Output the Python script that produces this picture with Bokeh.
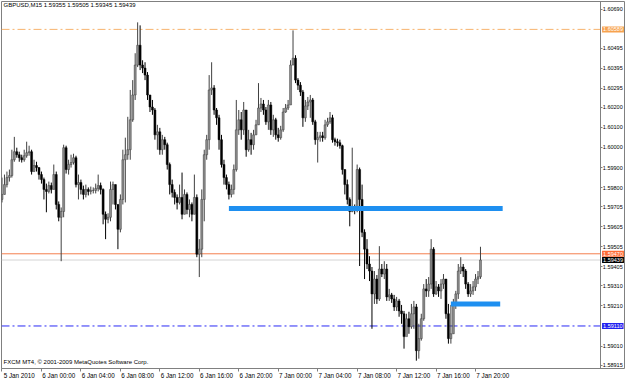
import numpy as np
from bokeh.plotting import figure
from bokeh.models import (FixedTicker, Label, ColumnDataSource, PrintfTickFormatter,
                          LinearAxis)
from bokeh.embed import file_html
from bokeh.resources import INLINE

symbol_title = "GBPUSD,M15  1.59355 1.59505 1.59345 1.59439"
copyright_text = "FXCM MT4, \u00a9 2001-2009 MetaQuotes Software Corp."

first_open = 1.59741
closes = [
    1.59766, 1.59815, 1.59850, 1.59860, 1.59939, 1.59979, 1.59964, 1.59949, 1.59939, 1.59959,
    1.59974, 1.59979, 1.59880, 1.59910, 1.59900, 1.59865, 1.59840, 1.59791, 1.59781, 1.59810,
    1.59791, 1.59865, 1.59716, 1.59652, 1.59681, 1.59999, 1.59890, 1.59915, 1.59925, 1.59949,
    1.59815, 1.59825, 1.59791, 1.59766, 1.59791, 1.59781, 1.59786, 1.59786, 1.59796, 1.59810,
    1.59791, 1.59667, 1.59642, 1.59652, 1.59791, 1.59815, 1.59716, 1.59592, 1.59741, 1.59939,
    1.59964, 1.59989, 1.60138, 1.60262, 1.60411, 1.60510, 1.60411, 1.60396, 1.60361, 1.60262,
    1.60202, 1.60187, 1.60063, 1.60078, 1.59989, 1.60039, 1.60014, 1.59915, 1.59815, 1.59776,
    1.59751, 1.59726, 1.59751, 1.59667, 1.59766, 1.59691, 1.59716, 1.59667, 1.59751, 1.59468,
    1.59493, 1.59741, 1.59964, 1.60039, 1.60287, 1.60297, 1.60187, 1.60148, 1.60039, 1.59915,
    1.59850, 1.59815, 1.59766, 1.59791, 1.59890, 1.60088, 1.60138, 1.60088, 1.60187, 1.59989,
    1.60039, 1.60014, 1.60063, 1.60113, 1.60197, 1.60217, 1.60187, 1.60128, 1.60212, 1.60088,
    1.60138, 1.60063, 1.60049, 1.60088, 1.60177, 1.60197, 1.60212, 1.60411, 1.60445, 1.60336,
    1.60311, 1.60277, 1.60148, 1.60207, 1.60227, 1.60237, 1.60128, 1.60039, 1.60049, 1.60058,
    1.60049, 1.60113, 1.60128, 1.60148, 1.60039, 1.60029, 1.60024, 1.60009, 1.59890, 1.59815,
    1.59741, 1.59681, 1.59701, 1.59691, 1.59890, 1.59741, 1.59577, 1.59493, 1.59419, 1.59384,
    1.59270, 1.59344, 1.59245, 1.59394, 1.59369, 1.59394, 1.59255, 1.59265, 1.59245, 1.59205,
    1.59235, 1.59185, 1.59171, 1.59057, 1.59146, 1.59106, 1.59171, 1.59205, 1.58987, 1.59047,
    1.59146, 1.59295, 1.59285, 1.59319, 1.59493, 1.59270, 1.59305, 1.59285, 1.59319, 1.59344,
    1.59171, 1.59047, 1.59071, 1.59220, 1.59270, 1.59384, 1.59404, 1.59384, 1.59319, 1.59270,
    1.59285, 1.59305, 1.59344, 1.59355, 1.59439,
]
highs = [
    1.59850, 1.59865, 1.59880, 1.59890, 1.59989, 1.60053, 1.59999, 1.59979, 1.59964, 1.59989,
    1.60029, 1.60009, 1.59989, 1.59939, 1.59929, 1.59900, 1.59880, 1.59850, 1.59820, 1.59830,
    1.59825, 1.59915, 1.59880, 1.59731, 1.59701, 1.60014, 1.60009, 1.59939, 1.59964, 1.59969,
    1.59959, 1.59865, 1.59840, 1.59810, 1.59815, 1.59801, 1.59805, 1.59801, 1.59820, 1.59865,
    1.59825, 1.59796, 1.59681, 1.59672, 1.59830, 1.59830, 1.59815, 1.59716, 1.59766, 1.59989,
    1.60049, 1.60153, 1.60287, 1.60336, 1.60470, 1.60624, 1.60609, 1.60435, 1.60425, 1.60376,
    1.60252, 1.60237, 1.60197, 1.60113, 1.60098, 1.60063, 1.60053, 1.60024, 1.59925, 1.59840,
    1.59791, 1.59766, 1.59815, 1.59875, 1.59791, 1.59776, 1.59741, 1.59726, 1.59865, 1.59766,
    1.59543, 1.59791, 1.59989, 1.60063, 1.60361, 1.60425, 1.60311, 1.60197, 1.60163, 1.60063,
    1.59939, 1.59865, 1.59830, 1.59815, 1.59915, 1.60237, 1.60187, 1.60177, 1.60227, 1.60187,
    1.60088, 1.60073, 1.60088, 1.60138, 1.60321, 1.60247, 1.60237, 1.60202, 1.60237, 1.60227,
    1.60163, 1.60148, 1.60098, 1.60108, 1.60197, 1.60217, 1.60237, 1.60435, 1.60584, 1.60460,
    1.60346, 1.60326, 1.60287, 1.60237, 1.60252, 1.60262, 1.60247, 1.60138, 1.60078, 1.60078,
    1.60078, 1.60138, 1.60148, 1.60177, 1.60163, 1.60049, 1.60044, 1.60039, 1.60014, 1.59890,
    1.59840, 1.59751, 1.59999, 1.59716, 1.59915, 1.59900, 1.59815, 1.59592, 1.59543, 1.59458,
    1.59404, 1.59384, 1.59364, 1.59508, 1.59419, 1.59433, 1.59419, 1.59295, 1.59275, 1.59265,
    1.59255, 1.59245, 1.59215, 1.59185, 1.59171, 1.59181, 1.59220, 1.59235, 1.59220, 1.59121,
    1.59171, 1.59319, 1.59344, 1.59354, 1.59543, 1.59503, 1.59334, 1.59319, 1.59344, 1.59369,
    1.59334, 1.59220, 1.59215, 1.59245, 1.59285, 1.59419, 1.59453, 1.59419, 1.59394, 1.59329,
    1.59319, 1.59334, 1.59369, 1.59384, 1.59505,
]
lows = [
    1.59726, 1.59766, 1.59801, 1.59830, 1.59850, 1.59929, 1.59949, 1.59929, 1.59925, 1.59929,
    1.59949, 1.59959, 1.59865, 1.59880, 1.59880, 1.59840, 1.59820, 1.59741, 1.59677, 1.59771,
    1.59771, 1.59791, 1.59691, 1.59632, 1.59433, 1.59652, 1.59870, 1.59865, 1.59900, 1.59915,
    1.59801, 1.59741, 1.59766, 1.59741, 1.59751, 1.59761, 1.59766, 1.59771, 1.59771, 1.59781,
    1.59766, 1.59617, 1.59543, 1.59622, 1.59632, 1.59716, 1.59691, 1.59493, 1.59577, 1.59716,
    1.59726, 1.59939, 1.59939, 1.60128, 1.60237, 1.60401, 1.60386, 1.60371, 1.60336, 1.60237,
    1.60177, 1.60163, 1.60039, 1.59989, 1.59964, 1.59964, 1.59989, 1.59890, 1.59766, 1.59751,
    1.59716, 1.59691, 1.59716, 1.59642, 1.59667, 1.59667, 1.59652, 1.59632, 1.59667, 1.59453,
    1.59354, 1.59453, 1.59632, 1.59939, 1.59989, 1.60262, 1.60163, 1.60113, 1.59989, 1.59900,
    1.59815, 1.59791, 1.59741, 1.59751, 1.59766, 1.59880, 1.60063, 1.60039, 1.60063, 1.59954,
    1.59979, 1.59964, 1.59989, 1.60063, 1.60113, 1.60177, 1.60163, 1.60113, 1.60088, 1.60063,
    1.60053, 1.60039, 1.60029, 1.60039, 1.60078, 1.60173, 1.60187, 1.60212, 1.60411, 1.60321,
    1.60287, 1.60257, 1.60103, 1.60128, 1.60187, 1.60148, 1.60113, 1.60014, 1.59925, 1.60029,
    1.60029, 1.60039, 1.60103, 1.60118, 1.60024, 1.60009, 1.60004, 1.59994, 1.59865, 1.59766,
    1.59716, 1.59607, 1.59677, 1.59667, 1.59677, 1.59409, 1.59553, 1.59344, 1.59394, 1.59334,
    1.59096, 1.59220, 1.59220, 1.59235, 1.59354, 1.59344, 1.59235, 1.59235, 1.59225, 1.59185,
    1.59185, 1.59156, 1.59121, 1.58997, 1.59086, 1.59071, 1.59096, 1.59096, 1.58937, 1.58947,
    1.59037, 1.59136, 1.59255, 1.59255, 1.59295, 1.59255, 1.59265, 1.59255, 1.59245, 1.59295,
    1.59146, 1.59022, 1.59022, 1.59071, 1.59195, 1.59245, 1.59369, 1.59354, 1.59295, 1.59255,
    1.59255, 1.59265, 1.59285, 1.59319, 1.59345,
]

x_tick_bars = [0, 16, 32, 48, 64, 80, 96, 112, 128, 144, 160, 176, 192]
x_tick_labels = ["5 Jan 2010", "6 Jan 00:00", "6 Jan 04:00", "6 Jan 08:00", "6 Jan 12:00",
                 "6 Jan 16:00", "6 Jan 20:00", "7 Jan 00:00", "7 Jan 04:00", "7 Jan 08:00",
                 "7 Jan 12:00", "7 Jan 16:00", "7 Jan 20:00"]
y_ticks = [1.60690, 1.60495, 1.60395, 1.60295, 1.60200, 1.60100, 1.60000, 1.59900, 1.59800,
           1.59705, 1.59605, 1.59505, 1.59405, 1.59310, 1.59210, 1.59010, 1.58915]

upper_level = 1.60589
ask_level = 1.59470
bid_level = 1.59439
lower_level = 1.59110
zone_prices = [1.59696, 1.59220]
zone_start_bars = [92, 182]
zone_end_bars = [203, 202]

# layout of the bar axis (in bars): visible window and where the price scale sits
X_START, X_END = -0.2, 252.8
SCALE_AT = 242.8
Y0, Y1 = 1.58898, 1.60728

opens = [first_open] + closes[:-1]
idx = list(range(len(closes)))
bull = [c >= o for o, c in zip(opens, closes)]
src = ColumnDataSource(dict(
    x=idx, open=opens, close=closes, high=highs, low=lows,
    top=[max(o, c) for o, c in zip(opens, closes)],
    bottom=[min(o, c) for o, c in zip(opens, closes)],
    fill=["#8e8e8e" if b else "#000000" for b in bull],
    edge=["#3c3c3c" if b else "#000000" for b in bull],
    wick=["#404040" if b else "#000000" for b in bull],
))

p = figure(width=625, height=381, x_range=(X_START, X_END), y_range=(Y0, Y1),
           y_axis_location=None, toolbar_location=None, output_backend="svg",
           min_border_left=1, min_border_top=1, min_border_right=0, min_border_bottom=11)
p.xgrid.visible = False
p.ygrid.visible = False
p.outline_line_color = "#808080"
p.background_fill_color = "white"
p.border_fill_color = "white"

FONT = "Liberation Sans"

# price scale drawn at a fixed place inside the window, as in MT4
yax = LinearAxis(fixed_location=SCALE_AT, ticker=FixedTicker(ticks=y_ticks),
                 formatter=PrintfTickFormatter(format="%.5f"))
p.add_layout(yax, "right")

for ax in (p.xaxis[0], yax):
    ax.axis_line_color = "#808080"
    ax.major_tick_line_color = "#808080"
    ax.minor_tick_line_color = None
    ax.major_tick_in = 0
    ax.major_tick_out = 3
    ax.major_label_text_font = FONT
    ax.major_label_text_font_size = "6.3px"
    ax.major_label_text_color = "#000000"
    ax.major_label_standoff = 0
yax.major_label_text_font_size = "5.5px"
yax.major_tick_out = 2

# MT4 writes each time label to the right of its tick mark:
# labels sit on (hidden) major ticks, the marks are drawn as minor ticks at the bars.
LABEL_SHIFT = 7
label_pos = [b + LABEL_SHIFT for b in x_tick_bars]
p.xaxis.ticker = FixedTicker(ticks=label_pos, minor_ticks=x_tick_bars)
p.xaxis.major_label_overrides = {b: t for b, t in zip(label_pos, x_tick_labels)}
p.xaxis.major_tick_line_color = None
p.xaxis.minor_tick_line_color = "#808080"
p.xaxis.minor_tick_in = 0
p.xaxis.minor_tick_out = 3
p.xaxis.bounds = (X_START, SCALE_AT)

# horizontal level lines (end at the price scale)
p.segment(x0=[X_START], y0=[upper_level], x1=[SCALE_AT], y1=[upper_level],
          line_color="#F7B36E", line_width=1, line_dash="8 3 2 3")
p.segment(x0=[X_START], y0=[bid_level], x1=[SCALE_AT], y1=[bid_level],
          line_color="#D4D4D4", line_width=1)
p.segment(x0=[X_START], y0=[ask_level], x1=[SCALE_AT], y1=[ask_level],
          line_color="#F47F4E", line_width=1)
p.segment(x0=[X_START], y0=[lower_level], x1=[SCALE_AT], y1=[lower_level],
          line_color="#2A2AF5", line_width=1, line_dash="8 3 2 3")

# candles
p.segment(x0="x", y0="low", x1="x", y1="high", color="wick", line_width=1, source=src)
p.vbar(x="x", top="top", bottom="bottom", width=0.8, fill_color="fill",
       line_color="edge", line_width=0.5, source=src)

# thick blue trend lines
p.segment(x0=zone_start_bars, y0=zone_prices, x1=zone_end_bars, y1=zone_prices,
          line_color="#1E8FF0", line_width=5, line_cap="butt")

# texts
p.add_layout(Label(x=2, y=367, x_units="screen", y_units="screen", text=symbol_title,
                   text_font=FONT, text_font_size="6px", text_color="#000000",
                   text_baseline="top"))
p.add_layout(Label(x=2, y=7, x_units="screen", y_units="screen", text=copyright_text,
                   text_font=FONT, text_font_size="6px", text_color="#000000",
                   text_baseline="middle"))

# price boxes on the price scale
for price, fill in [(upper_level, "#F7A24E"), (ask_level, "#FF6A35"),
                    (bid_level, "#000000"), (lower_level, "#2222F0")]:
    p.add_layout(Label(x=SCALE_AT + 0.5, y=price, x_units="data", y_units="data",
                       text="%.5f" % price, text_font=FONT, text_font_size="5.5px",
                       text_color="white", text_baseline="middle", text_align="left",
                       background_fill_color=fill, padding=1))

open("out.html", "w").write(file_html(p, INLINE))
